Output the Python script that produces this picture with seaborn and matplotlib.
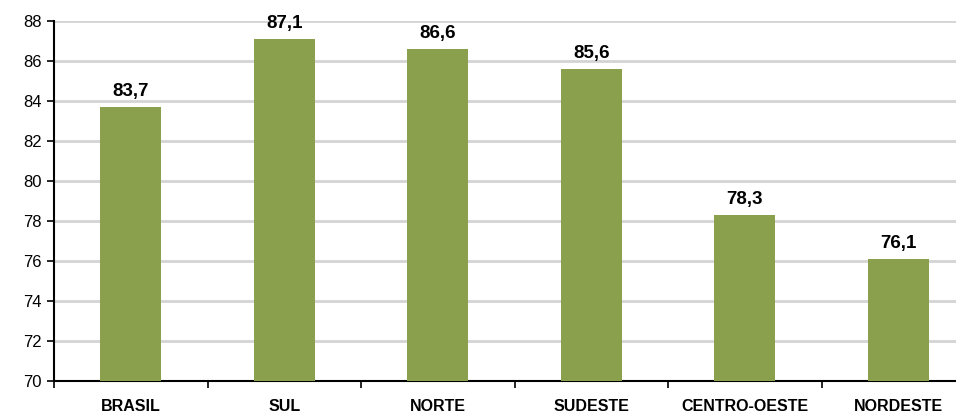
import pandas as pd
import matplotlib
matplotlib.use('Agg')
import matplotlib.pyplot as plt
import seaborn as sns
from matplotlib.ticker import FixedLocator

# Data
regions = ['BRASIL', 'SUL', 'NORTE', 'SUDESTE', 'CENTRO-OESTE', 'NORDESTE']
values = [83.7, 87.1, 86.6, 85.6, 78.3, 76.1]
labels = ['83,7', '87,1', '86,6', '85,6', '78,3', '76,1']

df = pd.DataFrame({'regiao': regions, 'valor': values})

sns.set_style('white')
plt.rcParams['font.family'] = ['Liberation Sans', 'DejaVu Sans']
plt.rcParams['text.color'] = 'black'
plt.rcParams['xtick.color'] = 'black'
plt.rcParams['ytick.color'] = 'black'

fig = plt.figure(figsize=(9.56, 4.13), dpi=100)
# axes run past the right edge, like in the original
ax = fig.add_axes([54 / 956, 32 / 413, 921 / 956, 360 / 413])

sns.barplot(data=df, x='regiao', y='valor', color='#8BA04C', width=0.4,
            saturation=1, linewidth=0, ax=ax, zorder=3)

ax.set_ylim(70, 88)
ax.set_yticks(range(70, 90, 2))
ax.set_xlim(-0.5, len(regions) - 0.5)
ax.yaxis.grid(True, color='#d4d4d4', linewidth=2, zorder=0)
ax.set_axisbelow(True)

ax.set_xlabel('')
ax.set_ylabel('')

for s in ['top', 'right']:
    ax.spines[s].set_visible(False)
for s in ['left', 'bottom']:
    ax.spines[s].set_color('#000000')
    ax.spines[s].set_linewidth(1.5)

ax.tick_params(axis='y', direction='out', length=5, width=1.2, left=True,
               labelsize=12, pad=4)
ax.tick_params(axis='x', which='major', length=0, labelsize=11.5, pad=13)
ax.xaxis.set_minor_locator(FixedLocator([i + 0.5 for i in range(-1, len(regions))]))
ax.tick_params(axis='x', which='minor', direction='out', length=5, width=1.2,
               bottom=True)
for t in ax.get_xticklabels():
    t.set_fontweight('bold')

for i, (v, lab) in enumerate(zip(values, labels)):
    ax.annotate(lab, (i, v), xytext=(0, 5), textcoords='offset points',
                ha='center', va='bottom', fontsize=13.5, fontweight='bold')

fig.savefig('out.png', dpi=100)
